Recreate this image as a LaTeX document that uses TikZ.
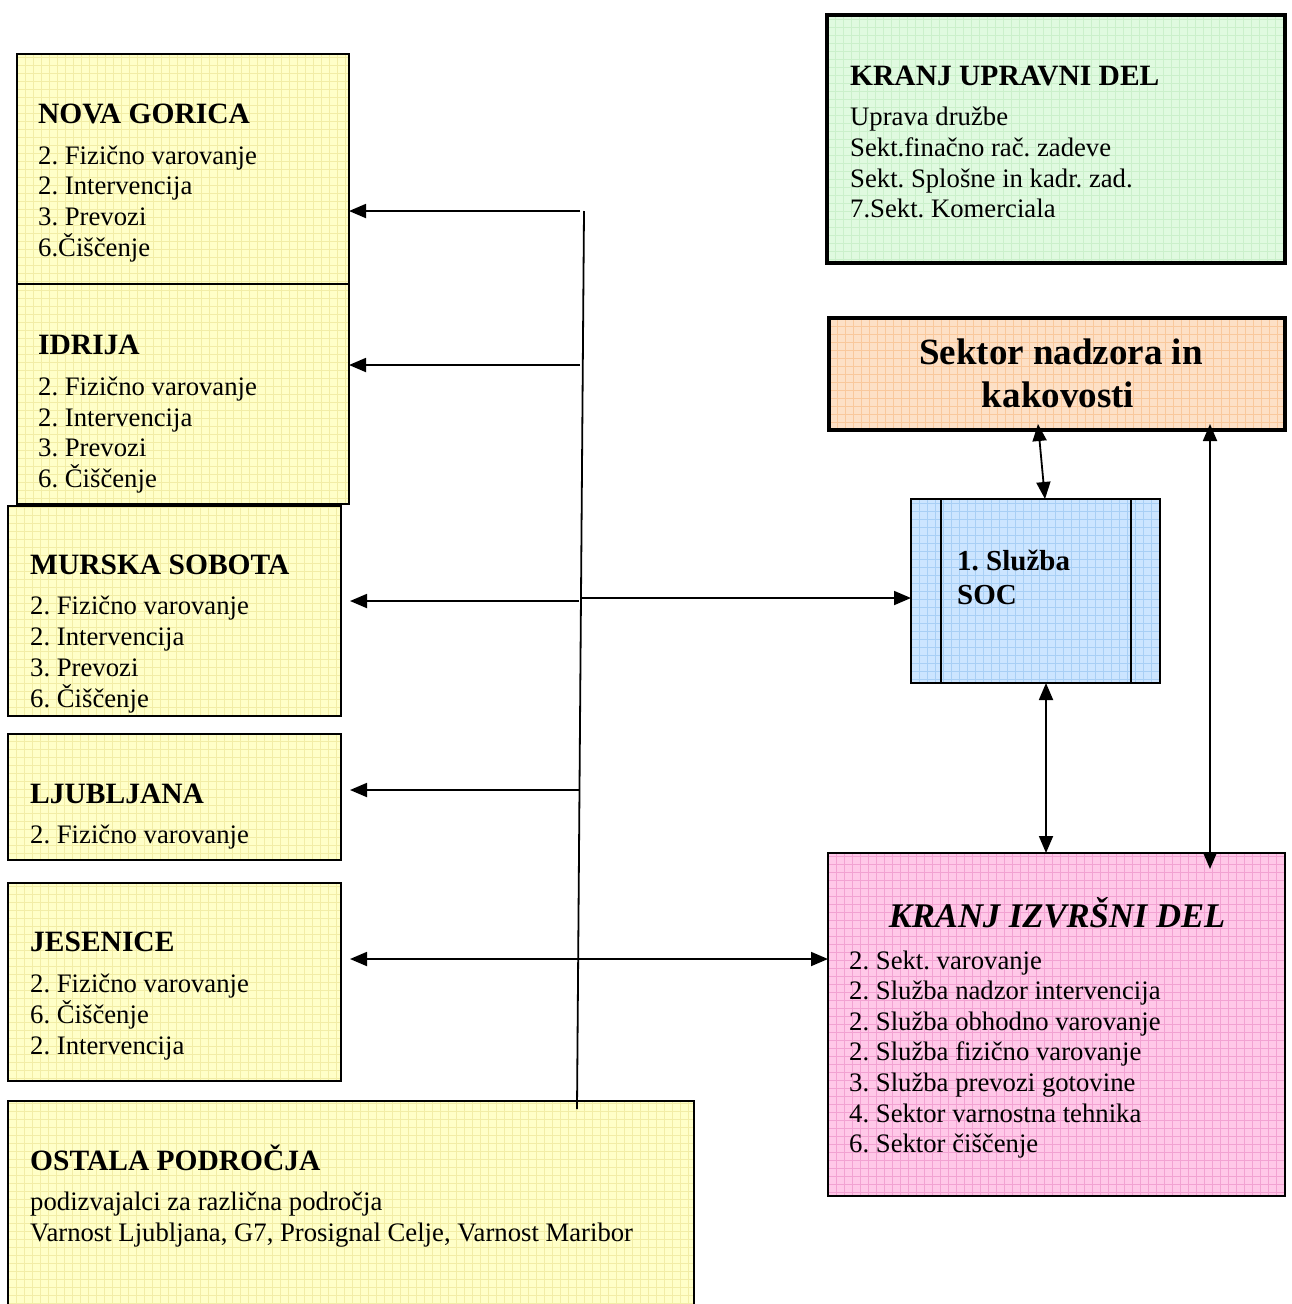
\documentclass[tikz,border=0pt]{standalone}
\usepackage{fontspec}
\setmainfont{Liberation Serif}
\usetikzlibrary{arrows.meta,fit}
\frenchspacing
\definecolor{ylw}{HTML}{FFFFC8}
\definecolor{ylwg}{HTML}{F2EDA6}
\definecolor{grn}{HTML}{E0FAE0}
\definecolor{grng}{HTML}{CBF0CB}
\definecolor{org}{HTML}{FDE0C6}
\definecolor{orgg}{HTML}{F9C89C}
\definecolor{blu}{HTML}{CCE5FF}
\definecolor{blug}{HTML}{A8CFF5}
\definecolor{pnk}{HTML}{FFC8E8}
\definecolor{pnkg}{HTML}{F2A2D2}
\tikzset{
  gridded/.style={path picture={\draw[#1, line width=0.6pt]
      ([shift={(-8,8)}]path picture bounding box.south west) grid[step=8pt]
      ([shift={(8,-8)}]path picture bounding box.north east);}},
  box/.style={draw=black, line width=1.6pt, inner sep=0pt, outer sep=0pt},
  thickbox/.style={draw=black, line width=4.5pt, inner sep=0pt, outer sep=0pt},
  ybox/.style={box, fill=ylw, gridded=ylwg},
  body/.style={anchor=base west, inner sep=0pt, font=\fontsize{26.7}{31}\selectfont},
  ttl/.style={anchor=base west, inner sep=0pt, font=\fontsize{29.5}{33}\selectfont\bfseries},
  conn/.style={draw=black, line width=1.8pt},
  tip/.tip={Triangle[length=17pt,width=14pt]},
}
\begin{document}
\begin{tikzpicture}[x=1pt,y=-1pt]
\useasboundingbox[fill=white] (0,0) rectangle (1291,1304);

% ---------- left boxes ----------
\node[ybox, fit={(17,54) (349,284)}] (ng) {};
\node[ybox, fit={(17,284) (349,504)}] (id) {};
\node[ybox, fit={(8,506) (341,716)}] (ms) {};
\node[ybox, fit={(8,734) (341,860)}] (lj) {};
\node[ybox, fit={(8,883) (341,1081)}] (je) {};
\node[ybox, fit={(8,1101) (694,1330)}] (os) {};

% ---------- right boxes ----------
\node[thickbox, fill=grn, gridded=grng, fit={(827,15) (1285,263)}] (ku) {};
\node[thickbox, fill=org, gridded=orgg, fit={(829,318) (1285,430)}] (sn) {};
\node[box, fill=blu, gridded=blug, fit={(911,499) (1160,683)}] (soc) {};
\draw[line width=1.6pt] (941,499) -- (941,683);
\draw[line width=1.6pt] (1131,499) -- (1131,683);
\node[box, fill=pnk, gridded=pnkg, fit={(828,853) (1285,1196)}] (kid) {};

% ---------- texts ----------
\node[ttl] (ngt) at (38,123) {NOVA GORICA};
\node[body] at (38,164) {2. Fizično varovanje};
\node[body] at (38,194) {2. Intervencija};
\node[body] at (38,225) {3. Prevozi};
\node[body] at (38,256) {6.Čiščenje};

\node[ttl] (idt) at (38,354) {IDRIJA};
\node[body] at (38,395) {2. Fizično varovanje};
\node[body] at (38,426) {2. Intervencija};
\node[body] at (38,456) {3. Prevozi};
\node[body] at (38,487) {6. Čiščenje};

\node[ttl] (mst) at (30,574) {MURSKA SOBOTA};
\node[body] at (30,614) {2. Fizično varovanje};
\node[body] at (30,645) {2. Intervencija};
\node[body] at (30,676) {3. Prevozi};
\node[body] at (30,707) {6. Čiščenje};

\node[ttl] (ljt) at (30,803) {LJUBLJANA};
\node[body] at (30,843) {2. Fizično varovanje};

\node[ttl] (jet) at (30,951) {JESENICE};
\node[body] at (30,992) {2. Fizično varovanje};
\node[body] at (30,1023) {6. Čiščenje};
\node[body] at (30,1054) {2. Intervencija};

\node[ttl] (ost) at (30,1170) {OSTALA PODROČJA};
\node[body] at (30,1210) {podizvajalci za različna področja};
\node[body] at (30,1241) {Varnost Ljubljana, G7, Prosignal Celje, Varnost Maribor};

\node[ttl] (kut) at (850,85) {KRANJ UPRAVNI DEL};
\node[body] at (850,125) {Uprava družbe};
\node[body] at (850,156) {Sekt.finačno rač. zadeve};
\node[body] at (850,187) {Sekt. Splošne in kadr. zad.};
\node[body] at (850,217) {7.Sekt. Komerciala};

\node[anchor=base, inner sep=0pt, font=\fontsize{37}{43}\selectfont\bfseries] (snt1) at (1061,364) {Sektor nadzora in};
\node[anchor=base, inner sep=0pt, font=\fontsize{37}{43}\selectfont\bfseries] (snt2) at (1058,407) {kakovosti};

\node[anchor=base west, inner sep=0pt, font=\fontsize{29}{33}\selectfont\bfseries] (soct1) at (957,570) {1. Služba};
\node[anchor=base west, inner sep=0pt, font=\fontsize{29}{33}\selectfont\bfseries] (soct2) at (957,604) {SOC};

\node[anchor=base, inner sep=0pt, font=\fontsize{34.6}{38}\selectfont\bfseries\itshape] (kidt) at (1057,927) {KRANJ IZVRŠNI DEL};
\node[body] at (849,969) {2. Sekt. varovanje};
\node[body] at (849,999) {2. Služba nadzor intervencija};
\node[body] at (849,1030) {2. Služba obhodno varovanje};
\node[body] at (849,1060) {2. Služba fizično varovanje};
\node[body] at (849,1091) {3. Služba prevozi gotovine};
\node[body] at (849,1122) {4. Sektor varnostna tehnika};
\node[body] at (849,1152) {6. Sektor čiščenje};

% ---------- connectors ----------
\coordinate (ttop) at (584,211);
\coordinate (tbot) at (577,1109);
\draw[conn] (ttop) -- (tbot);

\coordinate (a1) at (580,211);
\coordinate (a2) at (580,365);
\coordinate (a3) at (579,601);
\coordinate (a4) at (579,790);
\coordinate (a5) at (580,598);
\draw[conn, -tip] (a1) -- (ng.east |- a1);
\draw[conn, -tip] (a2) -- (id.east |- a2);
\draw[conn, -tip, shorten >=9pt] (a3) -- (ms.east |- a3);
\draw[conn, -tip, shorten >=9pt] (a4) -- (lj.east |- a4);
\draw[conn, -tip] (a5) -- (soc.west |- a5);

\coordinate (j1) at (341,959);
\draw[conn, tip-tip, shorten <=9pt] (je.east |- j1) -- (kid.west |- j1);

\coordinate (s1) at (1038,424);
\coordinate (s2) at (1045,499);
\draw[conn, tip-tip] (s1) -- (s2);

\coordinate (c1) at (1046,683);
\coordinate (c2) at (1046,853);
\draw[conn, tip-tip] (c1) -- (c2);

\coordinate (r1) at (1210,424);
\coordinate (r2) at (1210,869);
\draw[conn, tip-tip] (r1) -- (r2);
\end{tikzpicture}
\end{document}
